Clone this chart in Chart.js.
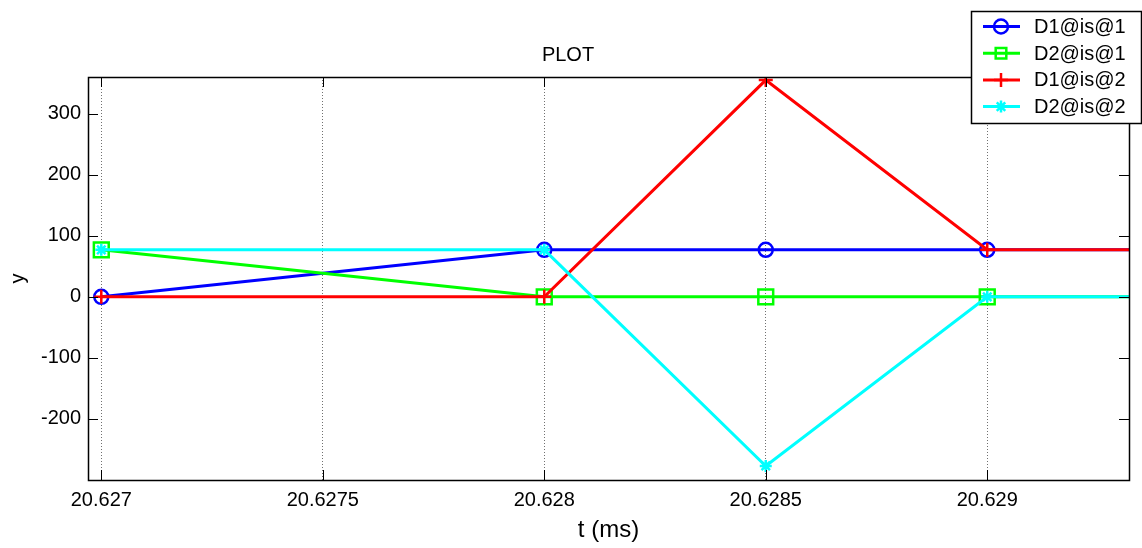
<!DOCTYPE html>
<html>
<head>
<meta charset="utf-8">
<script src="https://cdn.jsdelivr.net/npm/chart.js@4.4.1/dist/chart.umd.min.js"></script>
<style>html, body { margin: 0; background: #fff; }</style>
</head>
<body>
<canvas id="plot" width="1142" height="548"></canvas>
<script>
// données
const tMs = [20.627, 20.628, 20.6285, 20.629, 20.6295];
const d1is1 = [0, 77, 77, 77, 77];
const d2is1 = [77, 0, 0, 0, 0];
const d1is2 = [0, 0, 355, 77, 77];
const d2is2 = [77, 77, -277, 0, 0];

const xTicks = [20.627, 20.6275, 20.628, 20.6285, 20.629];
const xTickLabels = ["20.627", "20.6275", "20.628", "20.6285", "20.629"];
const yTicks = [-200, -100, 0, 100, 200, 300];
const xRange = [20.62697, 20.62932];
const yRange = [-300, 360];

const FONT = '"Liberation Sans", Arial, Helvetica, sans-serif';
const C = { blue: "#0000ff", green: "#00ff00", red: "#ff0000", cyan: "#00ffff", grid: "#707070" };

const series = [
  { label: "D1@is@1", values: d1is1, color: C.blue, marker: "circle", radius: 7, order: 4 },
  { label: "D2@is@1", values: d2is1, color: C.green, marker: "rect", radius: 10.5, order: 3 },
  { label: "D1@is@2", values: d1is2, color: C.red, marker: "cross", radius: 7, order: 2 },
  { label: "D2@is@2", values: d2is2, color: C.cyan, marker: "star", radius: 6, order: 1 },
];

// cadre façon matlab : boîte + petits ticks vers l'intérieur
const boxPlugin = {
  id: "box",
  afterDatasetsDraw(chart) {
    const { ctx, chartArea: a, scales } = chart;
    const len = 10;
    ctx.save();
    ctx.strokeStyle = "#000";
    ctx.lineWidth = 1;
    ctx.beginPath();
    for (const v of yTicks) {
      const y = Math.round(scales.y.getPixelForValue(v)) + 0.5;
      ctx.moveTo(a.left, y); ctx.lineTo(a.left + len, y);
      ctx.moveTo(a.right, y); ctx.lineTo(a.right - len, y);
    }
    for (const v of xTicks) {
      const x = Math.round(scales.x.getPixelForValue(v)) + 0.5;
      ctx.moveTo(x, a.bottom); ctx.lineTo(x, a.bottom - len);
      ctx.moveTo(x, a.top); ctx.lineTo(x, a.top + len);
    }
    ctx.stroke();
    ctx.lineWidth = 1.5;
    ctx.strokeRect(Math.round(a.left) + 0.5, Math.round(a.top) + 0.5,
      Math.round(a.right - a.left), Math.round(a.bottom - a.top));
    ctx.restore();
  },
};

// légende dans un encadré en haut à droite
const legendPlugin = {
  id: "boxLegend",
  afterDraw(chart) {
    const ctx = chart.ctx;
    const x0 = 971, y0 = 11, w = 170, h = 112, row = 26.7;
    ctx.save();
    ctx.fillStyle = "#fff";
    ctx.fillRect(x0, y0, w, h);
    ctx.strokeStyle = "#000";
    ctx.lineWidth = 1.5;
    ctx.strokeRect(x0 + 0.5, y0 + 0.5, w, h);
    chart.data.datasets.forEach((ds, i) => {
      const y = y0 + 15.5 + i * row;
      ctx.strokeStyle = ds.borderColor;
      ctx.lineWidth = 3;
      ctx.beginPath();
      ctx.moveTo(983, y); ctx.lineTo(1020, y);
      ctx.stroke();
      ctx.fillStyle = "rgba(0,0,0,0)";
      ctx.strokeStyle = ds.borderColor;
      ctx.lineWidth = 2.5;
      Chart.helpers.drawPoint(ctx, { pointStyle: ds.pointStyle, radius: Math.min(ds.pointRadius, 7.5), borderWidth: 2.5, rotation: 0 }, 1001, y);
      ctx.fillStyle = "#000";
      ctx.font = "20px " + FONT;
      ctx.textBaseline = "middle";
      ctx.fillText(ds.label, 1034, y + 1);
    });
    ctx.restore();
  },
};

new Chart(document.getElementById("plot"), {
  type: "line",
  data: {
    datasets: series.map((s) => ({
      label: s.label,
      data: tMs.map((t, i) => ({ x: t, y: s.values[i] })),
      borderColor: s.color, borderWidth: 3, tension: 0,
      pointStyle: s.marker, pointRadius: s.radius, pointBorderWidth: 2.5,
      pointBorderColor: s.color, pointBackgroundColor: "rgba(0,0,0,0)",
      order: s.order,
    })),
  },
  options: {
    responsive: false, animation: false,
    layout: { padding: { left: 0, right: 6, top: 0, bottom: 0 } },
    plugins: {
      legend: { display: false },
      tooltip: { enabled: false },
      title: {
        display: true, text: "PLOT", color: "#000",
        font: { family: FONT, size: 20, weight: "normal" },
        padding: { top: 43, bottom: 10 },
      },
    },
    scales: {
      x: {
        type: "linear", min: xRange[0], max: xRange[1],
        afterBuildTicks: (s) => { s.ticks = xTicks.map((v) => ({ value: v })); },
        afterFit: (s) => { s.height = 68; },
        ticks: {
          color: "#000", font: { family: FONT, size: 20 }, padding: 8,
          maxRotation: 0, autoSkip: false,
          callback: (v, i) => xTickLabels[i],
        },
        grid: { display: true, color: C.grid, lineWidth: 1, drawTicks: false },
        border: { display: false, dash: [1, 2] },
        title: {
          display: true, text: "t (ms)", color: "#000",
          font: { family: FONT, size: 24 }, padding: { top: 0, bottom: 3 },
        },
      },
      y: {
        type: "linear", min: yRange[0], max: yRange[1],
        afterBuildTicks: (s) => { s.ticks = yTicks.map((v) => ({ value: v })); },
        afterFit: (s) => { s.width = 88; },
        ticks: { color: "#000", font: { family: FONT, size: 20 }, padding: 7 },
        grid: { display: false, drawTicks: false },
        border: { display: false },
        title: {
          display: true, text: "y", color: "#000",
          font: { family: FONT, size: 20 }, padding: { top: 6, bottom: 0 },
        },
      },
    },
  },
  plugins: [boxPlugin, legendPlugin],
});
</script>
</body>
</html>
